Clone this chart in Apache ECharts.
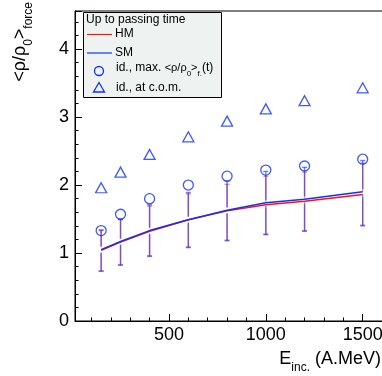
<!DOCTYPE html>
<html><head><meta charset="utf-8">
<script src="https://cdn.jsdelivr.net/npm/echarts@6/dist/echarts.min.js"></script>
<style>html,body{margin:0;padding:0;background:#fff}#c{width:382px;height:376px}</style>
</head><body><div id="c"></div>
<script>
// ---- data ----
const energies = [150, 250, 400, 600, 800, 1000, 1200, 1500];
const hmMean  = [1.04, 1.16, 1.32, 1.49, 1.62, 1.71, 1.76, 1.86];
const smMean  = [1.05, 1.17, 1.33, 1.49, 1.63, 1.74, 1.79, 1.90];
const hmLow   = [0.74, 0.83, 0.96, 1.09, 1.19, 1.28, 1.33, 1.41];
const hmHigh  = [1.33, 1.49, 1.69, 1.87, 2.01, 2.13, 2.19, 2.32];
const smLow   = [0.73, 0.82, 0.95, 1.08, 1.18, 1.27, 1.32, 1.40];
const smHigh  = [1.34, 1.50, 1.71, 1.89, 2.06, 2.20, 2.26, 2.36];
const maxRho  = [1.33, 1.57, 1.80, 2.00, 2.13, 2.22, 2.28, 2.38];
const comRho  = [1.96, 2.19, 2.45, 2.71, 2.94, 3.12, 3.24, 3.43];
const xMajorTicks = [500, 1000, 1500];
const xMinorTicks = [100, 200, 300, 400, 600, 700, 800, 900, 1100, 1200, 1300, 1400, 1600];

const FONT = 'Liberation Sans';
const RED = '#ff1010', BLUE = '#1030ff';

function errSeries(name, lo, hi, mid, color, opacity) {
  return {
    type: 'custom', name: name, silent: true, z: 3,
    data: energies.map((e, i) => [e, lo[i], hi[i]]),
    encode: { x: 0, y: [1, 2] },
    renderItem: function (params, api) {
      const i = params.dataIndex;
      const x = api.coord([energies[i], 0])[0];
      const yl = api.coord([energies[i], lo[i]])[1];
      const yh = api.coord([energies[i], hi[i]])[1];
      const ym = api.coord([energies[i], mid[i]])[1];
      const gap = 3, cw = 2.5;
      const st = { stroke: color, lineWidth: 1.4, opacity: opacity };
      return { type: 'group', children: [
        { type: 'line', shape: { x1: x, y1: yh, x2: x, y2: ym - gap }, style: st },
        { type: 'line', shape: { x1: x, y1: ym + gap, x2: x, y2: yl }, style: st },
        { type: 'line', shape: { x1: x - cw, y1: yh, x2: x + cw, y2: yh }, style: st },
        { type: 'line', shape: { x1: x - cw, y1: yl, x2: x + cw, y2: yl }, style: st }
      ]};
    }
  };
}

const chart = echarts.init(document.getElementById('c'), null, { renderer: 'canvas' });
const axisLine = { show: true, lineStyle: { color: '#000', width: 1 } };
const XMIN = 15, XMAX = 1610;
chart.setOption({
  animation: false,
  backgroundColor: '#fff',
  textStyle: { fontFamily: FONT },
  grid: { left: 75, top: 11, width: 309, bottom: 55, show: true, borderColor: '#000', borderWidth: 1,
    backgroundColor: '#fff', containLabel: false, outerBoundsMode: 'none' },
  xAxis: [{
    type: 'value', min: XMIN, max: XMAX, position: 'bottom',
    axisLine: axisLine,
    axisTick: { show: true, inside: true, length: 7, customValues: xMajorTicks, lineStyle: { color: '#000' } },
    axisLabel: { show: true, customValues: xMajorTicks, color: '#000', fontSize: 18, fontFamily: FONT, margin: 5,
      formatter: function (v) { return String(v); } },
    splitLine: { show: false }
  }, {
    type: 'value', min: XMIN, max: XMAX, position: 'bottom',
    axisLine: { show: false },
    axisTick: { show: true, inside: true, length: 3.5, customValues: xMinorTicks, lineStyle: { color: '#000' } },
    axisLabel: { show: false },
    splitLine: { show: false }
  }],
  yAxis: {
    type: 'value', min: 0, max: 4.56, interval: 1,
    axisLine: axisLine,
    axisTick: { show: true, inside: true, length: 7, lineStyle: { color: '#000' } },
    minorTick: { show: true, splitNumber: 5, length: 3.5, lineStyle: { color: '#000' } },
    axisLabel: { color: '#000', fontSize: 18, fontFamily: FONT, margin: 6,
      formatter: function (v) { return Number.isInteger(v) ? String(v) : ''; } },
    splitLine: { show: false }
  },
  series: [
    errSeries('HM err', hmLow, hmHigh, hmMean, RED, 0.5),
    errSeries('SM err', smLow, smHigh, smMean, BLUE, 0.6),
    { type: 'line', name: 'HM', data: energies.map((e, i) => [e, hmMean[i]]), symbol: 'none', z: 4,
      lineStyle: { color: RED, width: 1.5 } },
    { type: 'line', name: 'SM', data: energies.map((e, i) => [e, smMean[i]]), symbol: 'none', z: 4,
      lineStyle: { color: BLUE, width: 1.5 } },
    { type: 'scatter', name: 'id., max.', data: energies.map((e, i) => [e, maxRho[i]]), z: 5,
      symbol: 'circle', symbolSize: 10,
      itemStyle: { color: 'rgba(0,0,0,0)', borderColor: BLUE, borderWidth: 1.3 } },
    { type: 'scatter', name: 'id., at c.o.m.', data: energies.map((e, i) => [e, comRho[i]]), z: 5,
      symbol: 'triangle', symbolSize: [11, 10],
      itemStyle: { color: 'rgba(0,0,0,0)', borderColor: BLUE, borderWidth: 1.3 } }
  ],
  graphic: [
    { type: 'text', x: 23, y: 2, rotation: Math.PI / 2,
      style: { text: '{a|<ρ/ρ}{b|0}{a|>}{b|force}', align: 'right', verticalAlign: 'middle',
        rich: { a: { fontSize: 18, fontFamily: FONT, fill: '#000', lineHeight: 24, verticalAlign: 'top' },
                b: { fontSize: 12, fontFamily: FONT, fill: '#000', lineHeight: 12, verticalAlign: 'bottom' } } } },
    { type: 'text', x: 381, y: 362,
      style: { text: '{a|E}{b|inc.}{a| (A.MeV)}', align: 'right', verticalAlign: 'middle',
        rich: { a: { fontSize: 18, fontFamily: FONT, fill: '#000', lineHeight: 24, verticalAlign: 'top' },
                b: { fontSize: 12, fontFamily: FONT, fill: '#000', lineHeight: 12, verticalAlign: 'bottom' } } } },
    { type: 'group', z: 100, children: [
      { type: 'rect', shape: { x: 83.5, y: 12.5, width: 138, height: 85 },
        style: { fill: '#eef2f1', stroke: '#000', lineWidth: 1 } },
      { type: 'text', x: 86, y: 20, style: { text: 'Up to passing time', fontSize: 12, fontFamily: FONT, fill: '#000', verticalAlign: 'middle' } },
      { type: 'line', shape: { x1: 87, y1: 34.5, x2: 112, y2: 34.5 }, style: { stroke: RED, lineWidth: 1.2 } },
      { type: 'text', x: 115, y: 34, style: { text: 'HM', fontSize: 12, fontFamily: FONT, fill: '#000', verticalAlign: 'middle' } },
      { type: 'line', shape: { x1: 87, y1: 53, x2: 112, y2: 53 }, style: { stroke: BLUE, lineWidth: 1.2 } },
      { type: 'text', x: 115, y: 53, style: { text: 'SM', fontSize: 12, fontFamily: FONT, fill: '#000', verticalAlign: 'middle' } },
      { type: 'circle', shape: { cx: 99, cy: 71, r: 4.5 }, style: { fill: 'none', stroke: BLUE, lineWidth: 1.3 } },
      { type: 'text', x: 116, y: 70, style: { text: '{m|id., max. }{s|<ρ/ρ}{ss|0}{s|>}{ss|f.}{m|(t)}', verticalAlign: 'middle',
        rich: { m: { fontSize: 12, fontFamily: FONT, fill: '#000', lineHeight: 16, verticalAlign: 'top' },
                s: { fontSize: 11, fontFamily: FONT, fill: '#000', lineHeight: 16, verticalAlign: 'top' },
                ss: { fontSize: 8, fontFamily: FONT, fill: '#000', lineHeight: 8, verticalAlign: 'bottom' } } } },
      { type: 'polygon', shape: { points: [[99, 82.5], [104.5, 92], [93.5, 92]] }, style: { fill: 'none', stroke: BLUE, lineWidth: 1.3 } },
      { type: 'text', x: 116, y: 88, style: { text: 'id., at c.o.m.', fontSize: 12, fontFamily: FONT, fill: '#000', verticalAlign: 'middle' } }
    ]}
  ]
});
</script></body></html>
